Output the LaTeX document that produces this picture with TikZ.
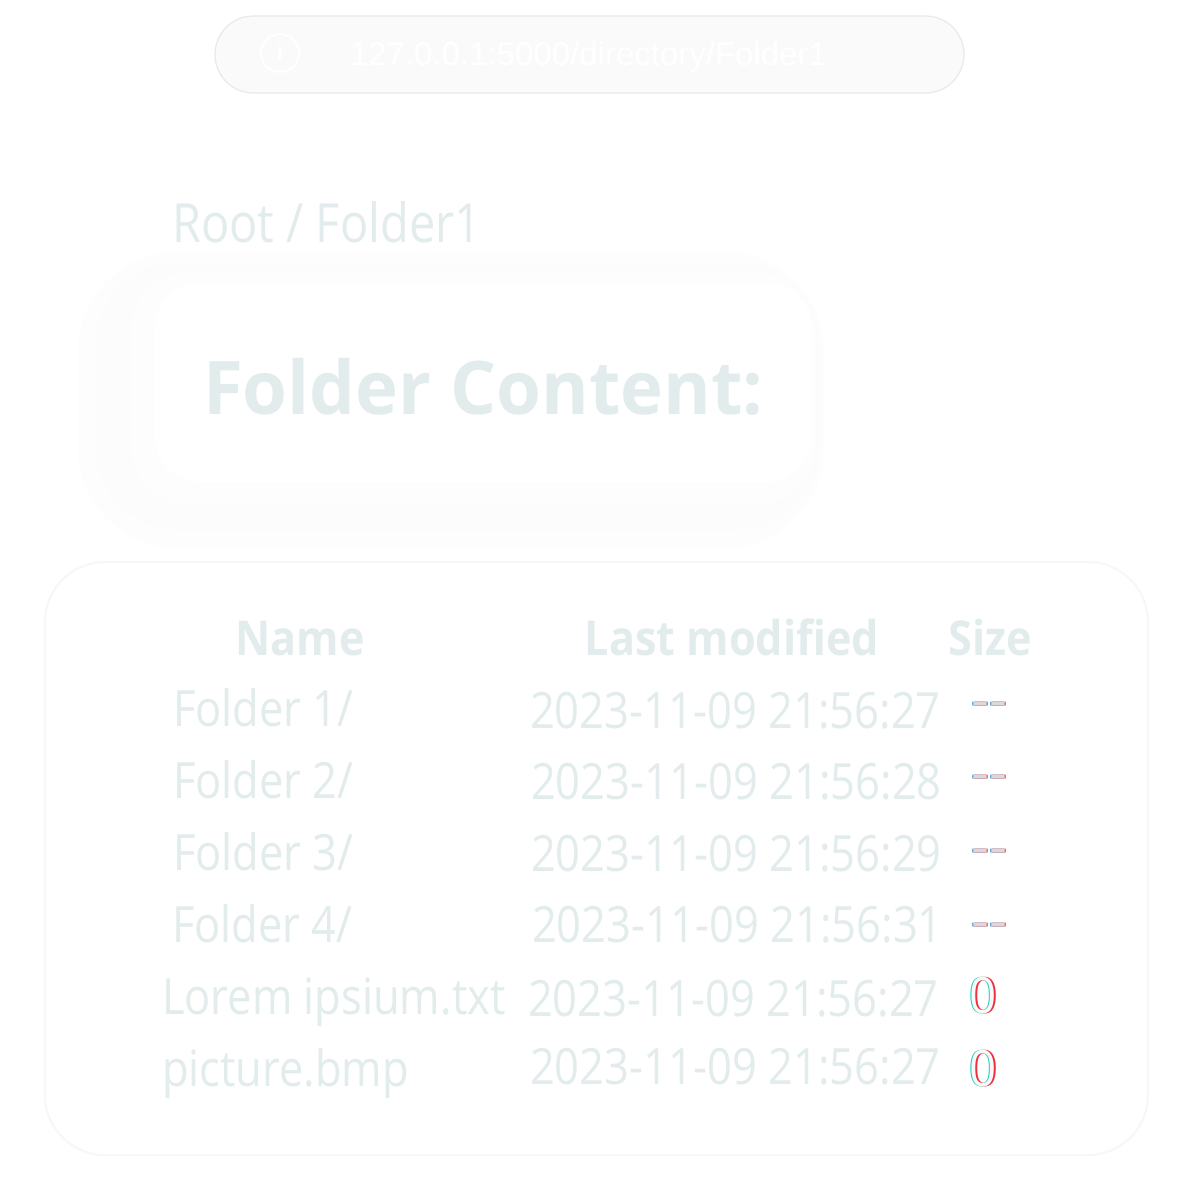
\documentclass[tikz,border=0pt]{standalone}
\usepackage{fontspec}
\setmainfont[FakeStretch=0.87]{Open Sans}
\newfontfamily\urlfont{Liberation Sans}
\newfontfamily\titlefont[FakeStretch=0.98]{Open Sans}
\newfontfamily\headfont[FakeStretch=0.9]{Open Sans}
\newfontfamily\sizefont[FakeStretch=1.12]{Open Sans}
\newfontfamily\zerofont[FakeStretch=0.95]{Open Sans}
\definecolor{txt}{HTML}{E3ECEC}
\definecolor{pillfill}{HTML}{FAFAFA}
\definecolor{pillline}{HTML}{E9E9E9}
\definecolor{shadowc}{HTML}{FCFCFC}
\definecolor{faint}{HTML}{F7F7F7}
\definecolor{abred}{HTML}{F0303C}
\definecolor{abcyan}{HTML}{20C8C0}
\definecolor{abblue}{HTML}{2090E0}
\begin{document}
\begin{tikzpicture}[x=1pt,y=-1pt,
  base/.style={inner sep=0pt, outer sep=0pt, anchor=base west},
  row/.style={base, text=txt, font=\fontsize{50}{60}\selectfont},
  head/.style={inner sep=0pt, anchor=base, text=txt, font=\headfont\fontsize{48}{58}\selectfont\bfseries},
  ab/.style={base, font=\sizefont\fontsize{50}{60}\selectfont},
  abz/.style={base, font=\zerofont\fontsize{50}{60}\selectfont},
]
\useasboundingbox[fill=white] (0,0) rectangle (1178,1192);

% URL bar
\node[draw=pillline, line width=1.2pt, fill=pillfill, rounded corners=38.5pt,
      minimum width=749pt, minimum height=77pt, inner sep=0pt] (pill) at (589.5,54.5) {};
\node[draw=white, line width=2pt, circle, minimum size=38pt, inner sep=0pt] (icon) at (280,53) {};
\node[inner sep=0pt, text=white, font=\urlfont\fontsize{22}{24}\selectfont\bfseries] (ii) at (icon) {i};
\node[base, text=white, font=\urlfont\fontsize{33}{40}\selectfont] (url) at (350,65) {127.0.0.1:5000/directory/Folder1};

% breadcrumb
\node[row, font=\fontsize{54}{64}\selectfont] (crumb) at (172,242) {Root / Folder1};

% Folder content panel with soft shadow
\fill[white!40!shadowc, rounded corners=100pt] (78,252) rectangle (824,548);
\fill[shadowc, rounded corners=85pt] (95,262) rectangle (820,530);
\fill[white!30!shadowc, rounded corners=60pt] (130,272) rectangle (816,505);
\node[fill=white, rounded corners=45pt,
      minimum width=657pt, minimum height=199pt, inner sep=0pt] (panel) at (483.5,382.5) {};
\node[base, text=txt, font=\titlefont\fontsize{74}{84}\selectfont\bfseries] (title) at (203,414) {Folder Content:};

% table card
\node[draw=faint, fill=white, line width=2pt, rounded corners=60pt,
      minimum width=1103pt, minimum height=593pt, inner sep=0pt] (card) at (596.5,858.5) {};

% headers
\node[head] (hname) at (300,655) {Name};
\node[head] (hmod) at (732,655) {Last modified};
\node[head] (hsize) at (990,655) {Size};

% rows
\node[row] (n1) at (173,726) {Folder 1/};
\node[row] (n2) at (173,798) {Folder 2/};
\node[row] (n3) at (173,870) {Folder 3/};
\node[row] (n4) at (172,942) {Folder 4/};
\node[row] (n5) at (162,1014) {Lorem ipsium.txt};
\node[row] (n6) at (162,1086) {picture.bmp};

\node[row] (d1) at (530,728) {2023-11-09 21:56:27};
\node[row] (d2) at (531,799) {2023-11-09 21:56:28};
\node[row] (d3) at (531,871) {2023-11-09 21:56:29};
\node[row] (d4) at (532,942) {2023-11-09 21:56:31};
\node[row] (d5) at (528,1016) {2023-11-09 21:56:27};
\node[row] (d6) at (530,1084) {2023-11-09 21:56:27};

% size column (chromatic fringe effect)
\foreach \i/\y in {1/717,2/790,3/864,4/938}{
  \node[ab, text=abblue] (s\i b) at (970.5,\y) {-{}-};
  \node[ab, text=abred] (s\i r) at (972.5,\y) {-{}-};
  \node[ab, text=black!15] (s\i) at (971.5,\y) {-{}-};
}
\foreach \i/\y in {5/1013,6/1086}{
  \node[abz, text=abcyan] (z\i c) at (968.5,\y) {0};
  \node[abz, text=abred] (z\i r) at (971,\y) {0};
  \node[abz, text=white!70!txt] (z\i) at (969.8,\y) {0};
}
\end{tikzpicture}
\end{document}
